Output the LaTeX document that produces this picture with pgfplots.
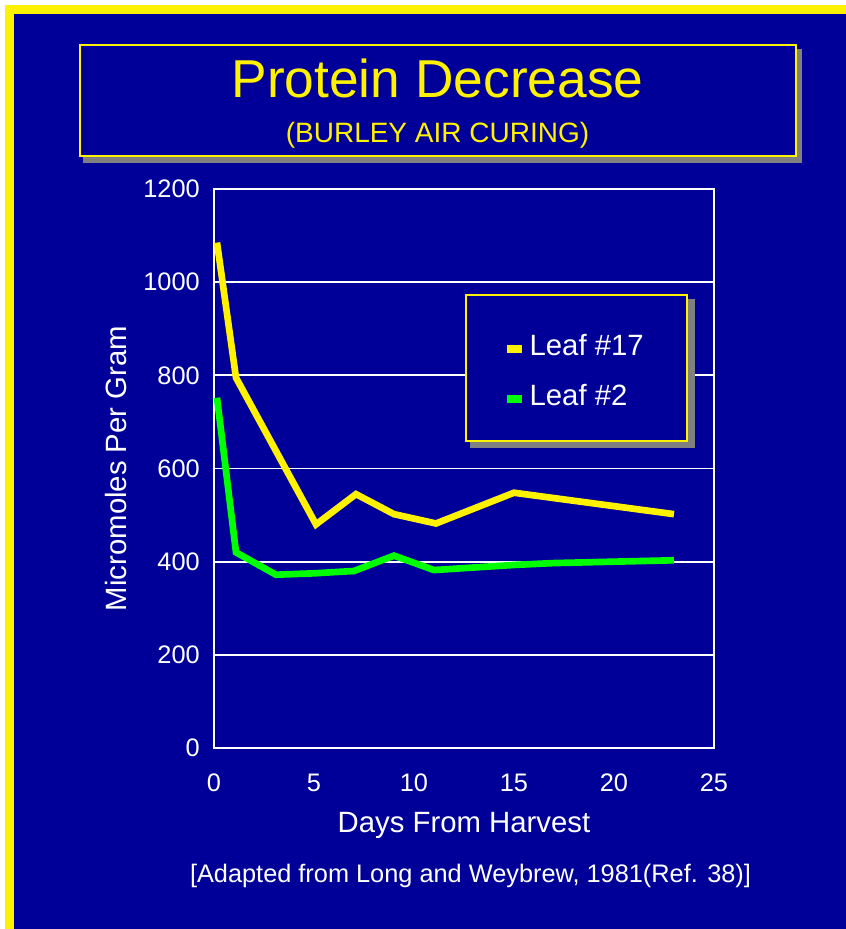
\documentclass[border=0pt]{standalone}
\usepackage{pgfplots}
\pgfplotsset{compat=1.18}
\usepackage{fontspec}
\setmainfont{Liberation Sans}
\definecolor{bgblue}{RGB}{0,0,153}
\definecolor{shadowgray}{RGB}{128,128,128}
\begin{document}
\begin{tikzpicture}
\fill[white] (0pt,0pt) rectangle (634.5pt,-696.75pt);
\fill[yellow] (3.75pt,-3.75pt) rectangle (634.5pt,-696.75pt);
\fill[bgblue] (10.5pt,-10.5pt) rectangle (634.5pt,-696.75pt);
% title box
\fill[shadowgray] (83*0.75pt,-49*0.75pt) rectangle (802*0.75pt,-163*0.75pt);
\filldraw[draw=yellow, fill=bgblue, line width=1.5pt] (80*0.75pt,-45*0.75pt) rectangle (796*0.75pt,-156*0.75pt);
\node[anchor=base, text=yellow, font=\fontsize{40}{40}\selectfont, inner sep=0pt] at (437.5*0.75pt,-97*0.75pt) {Protein Decrease};
\node[anchor=base, text=yellow, font=\fontsize{21}{21}\selectfont, inner sep=0pt] at (437.5*0.75pt,-142*0.75pt) {(BURLEY AIR CURING)};
\begin{axis}[
 scale only axis, width=375pt, height=419.25pt,
 at={(160.5pt,-561pt)}, anchor=south west,
 clip=false,
 xmin=0, xmax=25, ymin=0, ymax=1200,
 xtick={0,5,10,15,20,25}, ytick={0,200,...,1200},
 ymajorgrids, grid style={white, line width=1.3pt},
 axis line style={white, line width=1.3pt},
 major tick length=0pt,
 tick style={draw=none},
 /pgf/number format/assume math mode=true,
 /pgf/number format/1000 sep={},
 tick label style={text=white, font=\fontsize{19}{19}\selectfont, inner sep=0pt},
 xticklabel style={anchor=north, yshift=-19.5pt},
 yticklabel style={anchor=east, xshift=-10.5pt},
 xlabel={Days From Harvest}, ylabel={Micromoles Per Gram},
 xlabel style={at={(axis description cs:0.5,-0.152)}, anchor=base, text=white, font=\fontsize{22}{22}\selectfont, inner sep=0pt},
 ylabel style={at={(axis description cs:-0.176,0.5)}, anchor=base, text=white, font=\fontsize{22}{22}\selectfont, inner sep=0pt},
 legend cell align=left,
 legend style={at={(0.586,0.669)}, anchor=west, draw=none, fill=none, inner sep=0pt,
   row sep=16.5pt, column sep=5.5pt,
   nodes={inner sep=0pt, text height=15pt, text depth=6pt, text=white, font=\fontsize{22}{22}\selectfont}},
 legend image code/.code={\fill[draw=none, line width=0pt] (0pt,-3pt) rectangle (11.25pt,3pt);},
]
\fill[shadowgray] (rel axis cs:0.512,0.5367) rectangle (rel axis cs:0.962,0.8032);
\filldraw[draw=yellow, fill=bgblue, line width=1.5pt] (rel axis cs:0.504,0.5492) rectangle (rel axis cs:0.946,0.8104);
\addplot[yellow, line width=5pt, line join=miter] coordinates {
 (0.15,1085) (1.1,795) (5.1,480) (7.1,545) (9,502) (11.1,482) (15,548) (23,502)
};
\addlegendentry{Leaf \#17}
\addplot[green, line width=5pt, line join=miter] coordinates {
 (0.15,752) (1.1,420) (3.1,372) (5,375) (7,380) (9,413) (11,382) (15,393) (17,397) (23,403)
};
\addlegendentry{Leaf \#2}
\end{axis}
\node[anchor=base, text=white, font=\fontsize{19}{19}\selectfont, inner sep=0pt] at (470.5*0.75pt,-882*0.75pt) {[Adapted from Long and Weybrew, 1981(Ref. 38)]};
\end{tikzpicture}
\end{document}
